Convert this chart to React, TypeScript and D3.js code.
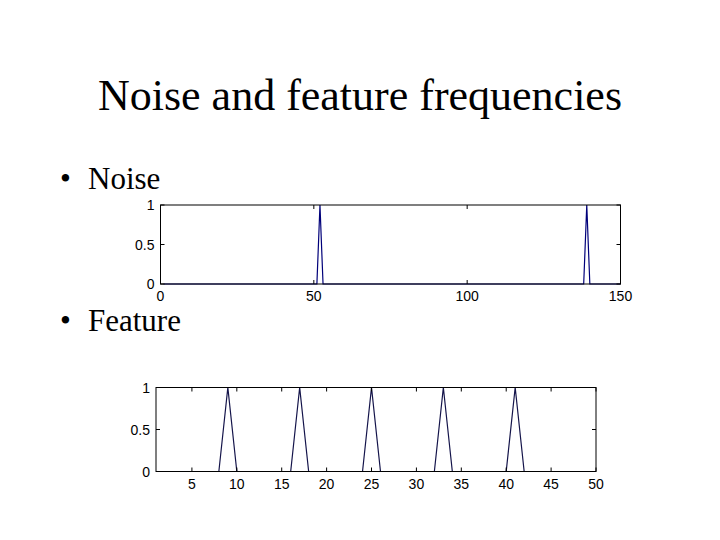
import { useEffect, useRef } from 'react';
import * as d3 from 'd3';

// Noise spectrum: polyline vertices (index, amplitude)
const noiseX = [1, 51, 52, 53, 138, 139, 140, 150];
const noiseY = [0, 0, 1, 0, 0, 1, 0, 0];
const noiseXTicks = [0, 50, 100, 150];

// Feature spectrum
const featureX = [1, 8, 9, 10, 16, 17, 18, 24, 25, 26, 32, 33, 34, 40, 41, 42, 50];
const featureY = [0, 0, 1, 0, 0, 1, 0, 0, 1, 0, 0, 1, 0, 0, 1, 0, 0];
const featureXTicks = [5, 10, 15, 20, 25, 30, 35, 40, 45, 50];

const yTicks = [0, 0.5, 1];

interface PanelSpec {
  xs: number[];
  ys: number[];
  xDomain: [number, number];
  xTicks: number[];
  left: number;
  right: number;
  top: number;
  bottom: number;
  color: string;
}

function drawPanel(svg: d3.Selection<SVGSVGElement, unknown, null, undefined>, p: PanelSpec) {
  const x = d3.scaleLinear().domain(p.xDomain).range([p.left, p.right]);
  const y = d3.scaleLinear().domain([0, 1]).range([p.bottom, p.top]);
  const g = svg.append('g');
  const tick = 4;

  // data line
  const pts = p.xs.map((v, i) => [v, p.ys[i]] as [number, number]);
  const line = d3.line<[number, number]>().x(d => x(d[0])).y(d => y(d[1]));
  g.append('path').datum(pts)
    .attr('fill', 'none').attr('stroke', p.color).attr('stroke-width', 1.2)
    .attr('d', line);

  // box
  g.append('rect')
    .attr('x', p.left).attr('y', p.top)
    .attr('width', p.right - p.left).attr('height', p.bottom - p.top)
    .attr('fill', 'none').attr('stroke', '#000').attr('stroke-width', 1);

  // x ticks (bottom + top, inward)
  p.xTicks.forEach(t => {
    const xp = x(t);
    g.append('line').attr('x1', xp).attr('x2', xp).attr('y1', p.bottom).attr('y2', p.bottom - tick).attr('stroke', '#000');
    g.append('line').attr('x1', xp).attr('x2', xp).attr('y1', p.top).attr('y2', p.top + tick).attr('stroke', '#000');
    g.append('text').attr('x', xp).attr('y', p.bottom + 17)
      .attr('text-anchor', 'middle').attr('font-family', 'Liberation Sans, Arial, sans-serif')
      .attr('font-size', 14).attr('fill', '#000').text(String(t));
  });

  // y ticks (left + right, inward)
  yTicks.forEach(t => {
    const yp = y(t);
    g.append('line').attr('x1', p.left).attr('x2', p.left + tick).attr('y1', yp).attr('y2', yp).attr('stroke', '#000');
    g.append('line').attr('x1', p.right).attr('x2', p.right - tick).attr('y1', yp).attr('y2', yp).attr('stroke', '#000');
    g.append('text').attr('x', p.left - 6).attr('y', yp + 5)
      .attr('text-anchor', 'end').attr('font-family', 'Liberation Sans, Arial, sans-serif')
      .attr('font-size', 14).attr('fill', '#000').text(String(t));
  });
}

export default function App() {
  const svgRef = useRef<SVGSVGElement>(null);

  useEffect(() => {
    if (!svgRef.current) return;
    const svg = d3.select(svgRef.current);
    svg.selectAll('*').remove();

    svg.append('rect').attr('width', 720).attr('height', 540).attr('fill', '#fff');

    svg.append('text').attr('x', 360).attr('y', 110)
      .attr('text-anchor', 'middle').attr('font-family', 'Liberation Serif, Times New Roman, serif')
      .attr('font-size', 44).attr('fill', '#000').text('Noise and feature frequencies');

    const bullet = (label: string, yb: number) => {
      svg.append('text').attr('x', 60).attr('y', yb)
        .attr('font-family', 'Liberation Serif, Times New Roman, serif')
        .attr('font-size', 31).attr('fill', '#000').text('\u2022');
      svg.append('text').attr('x', 88).attr('y', yb)
        .attr('font-family', 'Liberation Serif, Times New Roman, serif')
        .attr('font-size', 31).attr('fill', '#000').text(label);
    };
    bullet('Noise', 189);
    bullet('Feature', 331);

    drawPanel(svg, {
      xs: noiseX, ys: noiseY, xDomain: [0, 150], xTicks: noiseXTicks,
      left: 160.5, right: 620.5, top: 205, bottom: 284, color: '#00007a',
    });
    drawPanel(svg, {
      xs: featureX, ys: featureY, xDomain: [1, 50], xTicks: featureXTicks,
      left: 156, right: 596, top: 387.5, bottom: 471.5, color: '#14144a',
    });
  }, []);

  return (
    <svg ref={svgRef} width={720} height={540}
      style={{ position: 'absolute', left: 0, top: 0, display: 'block' }} />
  );
}
